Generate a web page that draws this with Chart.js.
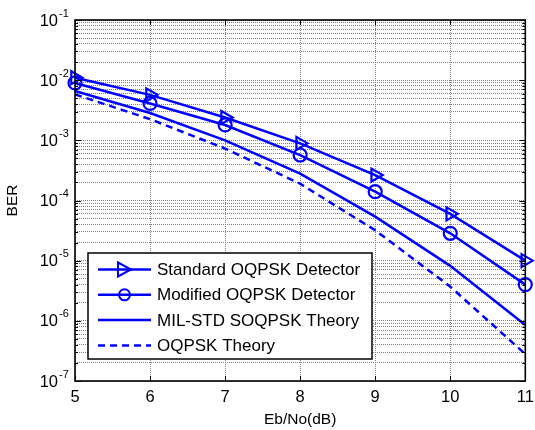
<!DOCTYPE html>
<html>
<head>
<meta charset="utf-8">
<script src="https://cdn.jsdelivr.net/npm/chart.js@4.4.1/dist/chart.umd.min.js"></script>
<style>
  html, body { margin: 0; padding: 0; background: #fff; }
  #wrap { width: 535px; height: 430px; }
</style>
</head>
<body>
<div id="wrap"><canvas id="ber"></canvas></div>
<script>
// ---- data ----
const ebNo = [5, 6, 7, 8, 9, 10, 11];
const berStandard = [1.1e-2, 5.7e-3, 2.4e-3, 8.9e-4, 2.65e-4, 6.0e-5, 1.0e-5];
const berModified = [9.0e-3, 4.1e-3, 1.8e-3, 5.7e-4, 1.4e-4, 2.85e-5, 4.0e-6];
const berMilStd   = [6.6e-3, 2.85e-3, 1.0e-3, 2.8e-4, 5.4e-5, 8.2e-6, 8.5e-7];
const berOqpsk    = [5.8e-3, 2.25e-3, 7.3e-4, 1.9e-4, 3.2e-5, 3.7e-6, 2.8e-7];

const seriesNames = ['Standard OQPSK Detector', 'Modified OQPSK Detector', 'MIL-STD SOQPSK Theory', 'OQPSK Theory'];
const xTicks = [5, 6, 7, 8, 9, 10, 11];
const yExponents = [-7, -6, -5, -4, -3, -2, -1];
const xTitle = 'Eb/No(dB)';
const yTitle = 'BER';

const FONT = "'Liberation Sans', Arial, sans-serif";
const BLUE = '#0000ff';

const pts = vals => ebNo.map((x, i) => ({ x: x, y: vals[i] }));

// y grid: 1..9 x 10^n for every decade
function logTicks() {
  const out = [];
  yExponents.forEach((e, i) => {
    const last = i === yExponents.length - 1;
    for (let m = 1; m <= (last ? 1 : 9); m++) {
      out.push({ value: m * Math.pow(10, e), major: m === 1 });
    }
  });
  return out;
}

// draw box, inward ticks, tick labels, titles and legend (MATLAB look)
const frame = {
  id: 'frame',
  afterDraw(chart) {
    const { ctx, chartArea: a, scales: { x, y } } = chart;
    ctx.save();

    // inward tick marks
    ctx.strokeStyle = '#000';
    ctx.lineWidth = 1;
    ctx.beginPath();
    y.ticks.forEach(t => {
      const py = Math.round(y.getPixelForValue(t.value)) + 0.5;
      const len = t.major ? 6 : 3;
      ctx.moveTo(a.left, py); ctx.lineTo(a.left + len, py);
      ctx.moveTo(a.right, py); ctx.lineTo(a.right - len, py);
    });
    xTicks.forEach(v => {
      const px = Math.round(x.getPixelForValue(v)) + 0.5;
      ctx.moveTo(px, a.bottom); ctx.lineTo(px, a.bottom - 5);
      ctx.moveTo(px, a.top); ctx.lineTo(px, a.top + 5);
    });
    ctx.stroke();

    // box
    ctx.lineWidth = 1.6;
    ctx.strokeRect(a.left, a.top, a.right - a.left, a.bottom - a.top);

    // y tick labels: 10^e
    ctx.fillStyle = '#000';
    yExponents.forEach(e => {
      const py = y.getPixelForValue(Math.pow(10, e));
      ctx.font = '16.5px ' + FONT;
      ctx.textAlign = 'right';
      ctx.textBaseline = 'middle';
      ctx.fillText('10', 58, py + 1);
      ctx.font = '11px ' + FONT;
      ctx.textAlign = 'left';
      ctx.textBaseline = 'alphabetic';
      ctx.fillText(String(e), 59, py - 3.5);
    });

    // x tick labels
    ctx.font = '16.5px ' + FONT;
    ctx.textAlign = 'center';
    ctx.textBaseline = 'middle';
    xTicks.forEach(v => {
      ctx.fillText(String(v), x.getPixelForValue(v), 397);
    });

    // axis titles
    ctx.font = '15.5px ' + FONT;
    ctx.fillText(xTitle, (a.left + a.right) / 2, 420);
    ctx.save();
    ctx.translate(13, (a.top + a.bottom) / 2);
    ctx.rotate(-Math.PI / 2);
    ctx.fillText(yTitle, 0, 0);
    ctx.restore();

    // legend box
    const lx = 88, ly = 253, lw = 284, lh = 106;
    ctx.fillStyle = '#fff';
    ctx.fillRect(lx, ly, lw, lh);
    ctx.lineWidth = 1.5;
    ctx.strokeStyle = '#000';
    ctx.strokeRect(lx, ly, lw, lh);

    chart.data.datasets.forEach((ds, i) => {
      const ry = 269.5 + i * 25.3;
      ctx.strokeStyle = BLUE;
      ctx.lineWidth = 2.5;
      ctx.setLineDash(ds.borderDash || []);
      ctx.beginPath();
      ctx.moveTo(98, ry); ctx.lineTo(151, ry);
      ctx.stroke();
      ctx.setLineDash([]);
      if (ds.pointRadius > 0) {
        ctx.lineWidth = 2;
        ctx.beginPath();
        if (ds.pointStyle === 'circle') {
          ctx.arc(124.5, ry, 5.5, 0, Math.PI * 2);
        } else {
          ctx.moveTo(118, ry - 7); ctx.lineTo(131, ry); ctx.lineTo(118, ry + 7); ctx.closePath();
        }
        ctx.stroke();
      }
      ctx.fillStyle = '#000';
      ctx.font = '17px ' + FONT;
      ctx.textAlign = 'left';
      ctx.textBaseline = 'middle';
      ctx.fillText(ds.label, 157, ry + 1);
    });

    ctx.restore();
  }
};

const common = {
  borderColor: BLUE,
  borderWidth: 2.5,
  tension: 0,
  clip: false,
  pointBorderColor: BLUE,
  pointBackgroundColor: 'rgba(0,0,0,0)',
  pointBorderWidth: 2.2
};

new Chart(document.getElementById('ber'), {
  type: 'line',
  data: {
    datasets: [
      Object.assign({ label: seriesNames[0], data: pts(berStandard), pointStyle: 'triangle', rotation: 90, pointRadius: 7.5 }, common),
      Object.assign({ label: seriesNames[1], data: pts(berModified), pointStyle: 'circle', pointRadius: 6.5 }, common),
      Object.assign({ label: seriesNames[2], data: pts(berMilStd), pointRadius: 0 }, common),
      Object.assign({ label: seriesNames[3], data: pts(berOqpsk), pointRadius: 0, borderDash: [7, 5] }, common)
    ]
  },
  options: {
    responsive: true,
    maintainAspectRatio: false,
    animation: false,
    events: [],
    layout: { padding: { top: 20, right: 6, left: 0, bottom: 0 } },
    plugins: { legend: { display: false }, tooltip: { enabled: false } },
    scales: {
      x: {
        type: 'linear',
        min: 5, max: 11,
        afterBuildTicks: s => { s.ticks = xTicks.map(v => ({ value: v })); },
        afterFit: s => { s.height = 49; },
        ticks: { display: false },
        grid: { color: '#808080', lineWidth: 1, drawTicks: false },
        border: { display: false, dash: [1, 1] }
      },
      y: {
        type: 'logarithmic',
        min: 1e-7, max: 1e-1,
        afterBuildTicks: s => { s.ticks = logTicks(); },
        afterFit: s => { s.width = 75; },
        ticks: { display: false },
        grid: { color: '#808080', lineWidth: 1, drawTicks: false },
        border: { display: false, dash: [1, 1] }
      }
    }
  },
  plugins: [frame]
});
</script>
</body>
</html>
